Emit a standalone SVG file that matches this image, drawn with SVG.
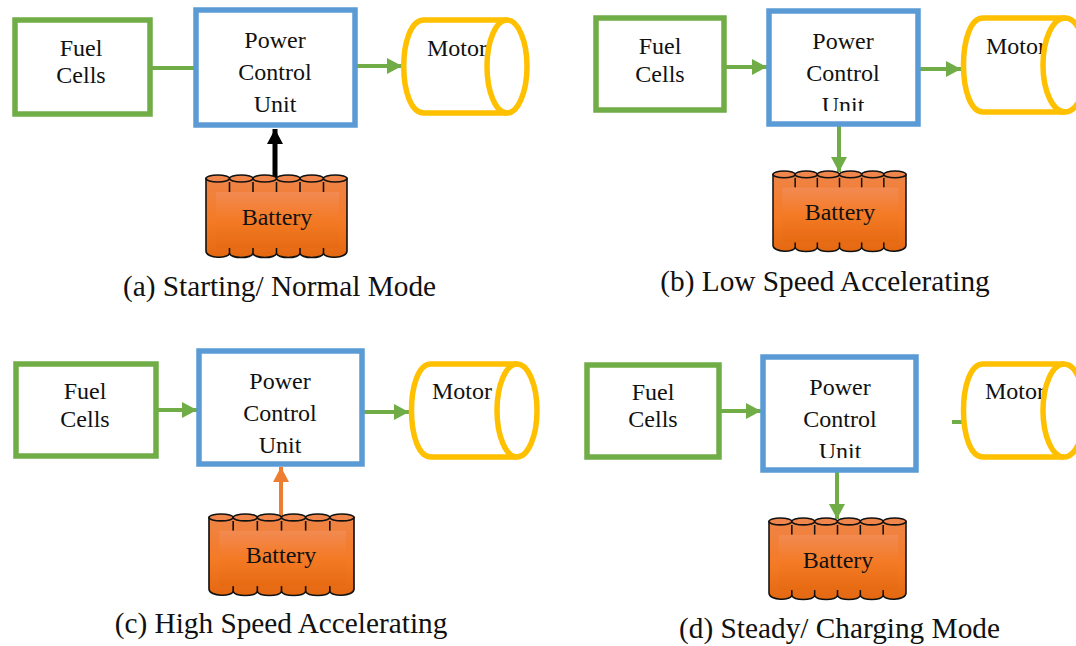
<svg xmlns="http://www.w3.org/2000/svg" width="1076" height="646" viewBox="0 0 1076 646">
<style>
text{font-family:"Liberation Serif","Times New Roman",serif;fill:#111;font-size:24px}
.m{text-anchor:middle}
.cap{font-size:29.300px}
.fc{fill:#fff;stroke:#70ad47;stroke-width:5.5}
.pcu{fill:#fff;stroke:#5b9bd5;stroke-width:5.5}
.mot{fill:#fff;stroke:#ffc000;stroke-width:5.5}
.mote{fill:none;stroke:#ffc000;stroke-width:5.5}
.g{stroke:#70ad47;stroke-width:4;fill:none}
.bl{fill:url(#bat);stroke:#111;stroke-width:1.6}
.cl{fill:#f0864b;stroke:#111;stroke-width:1.6}
.ln{stroke:#111;stroke-width:1.6;fill:none}
</style>
<defs>
<linearGradient id="bat" x1="0" y1="0" x2="0" y2="1"><stop offset="0" stop-color="#ef8447"/><stop offset="0.55" stop-color="#f47a25"/><stop offset="1" stop-color="#e36810"/></linearGradient>
<linearGradient id="batin" x1="0" y1="0" x2="0" y2="1"><stop offset="0" stop-color="#f28a52"/><stop offset="0.5" stop-color="#f47a25"/><stop offset="1" stop-color="#e66a12"/></linearGradient>
<marker id="ag" markerUnits="userSpaceOnUse" markerWidth="16" markerHeight="16" refX="15" refY="8" orient="auto"><path d="M0 0L15 8L0 16Z" fill="#70ad47"/></marker>
<marker id="ak" markerUnits="userSpaceOnUse" markerWidth="16" markerHeight="16" refX="15" refY="8" orient="auto"><path d="M0 0L15 8L0 16Z" fill="#000"/></marker>
<marker id="ao" markerUnits="userSpaceOnUse" markerWidth="16" markerHeight="16" refX="15" refY="8" orient="auto"><path d="M0 0L15 8L0 16Z" fill="#ed7d31"/></marker>
<symbol id="battery" viewBox="0 0 141 82" preserveAspectRatio="none" overflow="visible">
<path class="bl" d="M0 3.500V76C0 84 23.500 84 23.500 78C23.500 84 47 84 47 78C47 84 70.500 84 70.500 78C70.500 84 94 84 94 78C94 84 117.500 84 117.500 78C117.500 84 141 84 141 76V3.500Z"/>
<path class="ln" d="M23.500 7V17M47 7V17M70.500 7V17M94 7V17M117.500 7V17M23.500 73V78M47 73V78M70.500 73V78M94 73V78M117.500 73V78"/>
<rect x="10" y="17" width="123" height="56" fill="url(#batin)"/>
<g class="cl"><ellipse cx="11.750" cy="3.500" rx="11.750" ry="3.500"/><ellipse cx="35.250" cy="3.500" rx="11.750" ry="3.500"/><ellipse cx="58.750" cy="3.500" rx="11.750" ry="3.500"/><ellipse cx="82.250" cy="3.500" rx="11.750" ry="3.500"/><ellipse cx="105.750" cy="3.500" rx="11.750" ry="3.500"/><ellipse cx="129.250" cy="3.500" rx="11.750" ry="3.500"/></g>
</symbol>
<clipPath id="cb"><rect x="771" y="14" width="145" height="97"/></clipPath>
<clipPath id="cd"><rect x="765" y="360" width="149" height="98"/></clipPath>
</defs>

<g id="connectors">
<path class="g" d="M150 68H194"/>
<path class="g" d="M355 66H402" marker-end="url(#ag)"/>
<path d="M275 178V129" stroke="#000" stroke-width="5" fill="none" marker-end="url(#ak)"/>
<path class="g" d="M724 67H767" marker-end="url(#ag)"/>
<path class="g" d="M918 69H961" marker-end="url(#ag)"/>
<path class="g" d="M839 124V172" marker-end="url(#ag)"/>
<path class="g" d="M156 410H197" marker-end="url(#ag)"/>
<path class="g" d="M364 412H409" marker-end="url(#ag)"/>
<path d="M281 516V467" stroke="#ed7d31" stroke-width="4" fill="none" marker-end="url(#ao)"/>
<path class="g" d="M719 411H761" marker-end="url(#ag)"/>
<path class="g" d="M952 422H963"/>
<path class="g" d="M837 470V519" marker-end="url(#ag)"/>
</g>

<g id="fuel-a"><rect class="fc" x="15" y="20" width="135" height="94"/><text class="m" x="81" y="56">Fuel</text><text class="m" x="81" y="83">Cells</text></g>
<g id="pcu-a"><rect class="pcu" x="196" y="10" width="159" height="115"/><text class="m" x="275" y="48">Power</text><text class="m" x="275" y="80">Control</text><text class="m" x="275" y="112">Unit</text></g>
<g id="motor-a"><path class="mot" d="M507 20H424C397 20 397 113 424 113H507"/><text x="427" y="56">Motor</text><ellipse class="mote" cx="507" cy="66.500" rx="20" ry="46.500"/></g>
<g id="battery-a"><use href="#battery" x="206" y="175" width="141" height="82"/><text class="m" x="277" y="225">Battery</text></g>
<text id="cap-a" class="cap m" x="279.500" y="296">(a) Starting/ Normal Mode</text>

<g id="fuel-b"><rect class="fc" x="596" y="18" width="128" height="92"/><text class="m" x="660" y="54">Fuel</text><text class="m" x="660" y="82">Cells</text></g>
<g id="pcu-b"><rect class="pcu" x="769" y="11" width="149" height="113"/><g clip-path="url(#cb)"><text class="m" x="843" y="49">Power</text><text class="m" x="843" y="81">Control</text><text class="m" x="843" y="113">Unit</text></g></g>
<g id="motor-b"><path class="mot" d="M1065 18H983C957 18 957 112 983 112H1065"/><text x="986" y="54">Motor</text><ellipse class="mote" cx="1065" cy="65" rx="22" ry="47"/></g>
<g id="battery-b"><use href="#battery" x="773" y="171" width="133" height="80"/><text class="m" x="840" y="220">Battery</text></g>
<text id="cap-b" class="cap m" x="825" y="291">(b) Low Speed Accelerating</text>

<g id="fuel-c"><rect class="fc" x="16" y="364" width="140" height="92"/><text class="m" x="85" y="399">Fuel</text><text class="m" x="85" y="427">Cells</text></g>
<g id="pcu-c"><rect class="pcu" x="199" y="351" width="163" height="113"/><text class="m" x="280" y="389">Power</text><text class="m" x="280" y="421">Control</text><text class="m" x="280" y="453">Unit</text></g>
<g id="motor-c"><path class="mot" d="M517 364H431C405 364 405 457 431 457H517"/><text x="432" y="399">Motor</text><ellipse class="mote" cx="517" cy="410.500" rx="20" ry="46.500"/></g>
<g id="battery-c"><use href="#battery" x="209" y="514" width="145" height="81"/><text class="m" x="281" y="563">Battery</text></g>
<text id="cap-c" class="cap m" x="281" y="633">(c) High Speed Accelerating</text>

<g id="fuel-d"><rect class="fc" x="587" y="365" width="132" height="92"/><text class="m" x="653" y="400">Fuel</text><text class="m" x="653" y="427">Cells</text></g>
<g id="pcu-d"><rect class="pcu" x="763" y="357" width="153" height="113"/><g clip-path="url(#cd)"><text class="m" x="840" y="395">Power</text><text class="m" x="840" y="427">Control</text><text class="m" x="840" y="459">Unit</text></g></g>
<g id="motor-d"><path class="mot" d="M1064 364H983C957 364 957 457 983 457H1064"/><text x="985" y="399">Motor</text><ellipse class="mote" cx="1064" cy="410.500" rx="21" ry="46.500"/></g>
<g id="battery-d"><use href="#battery" x="769" y="518" width="137" height="81"/><text class="m" x="838" y="568">Battery</text></g>
<text id="cap-d" class="cap m" x="839.500" y="638">(d) Steady/ Charging Mode</text>
</svg>
